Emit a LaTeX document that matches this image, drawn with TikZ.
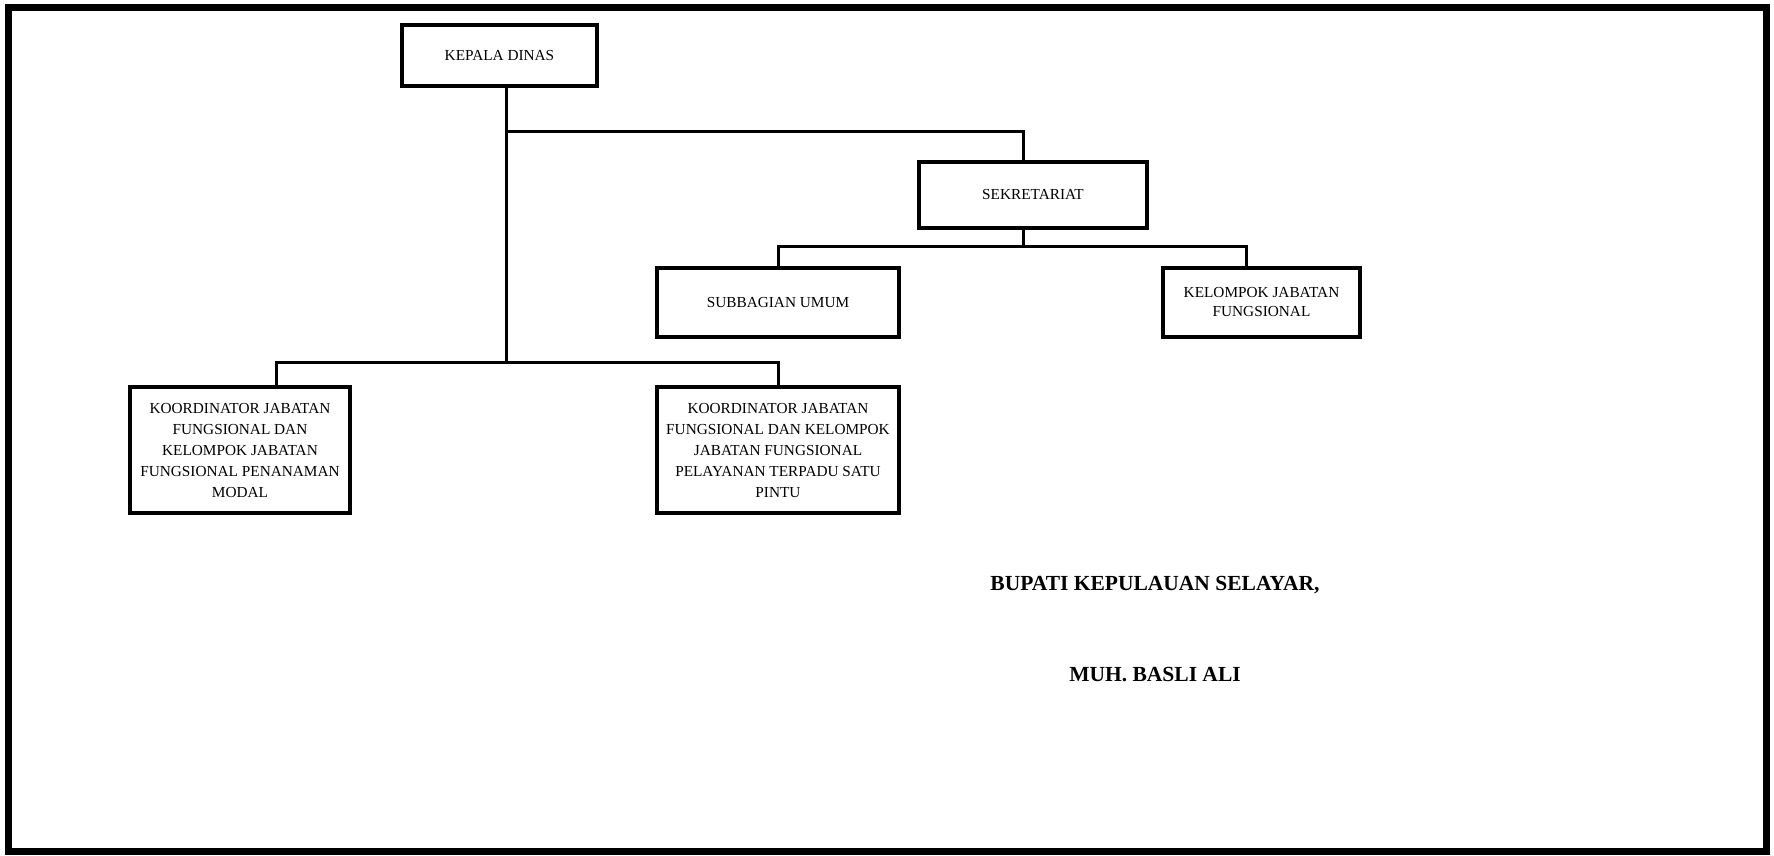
\documentclass[tikz,border=0pt]{standalone}
\usepackage{fontspec}
\setmainfont{Liberation Serif}
\begin{document}
\begin{tikzpicture}[x=1pt,y=-1pt,
  box/.style={draw,line width=3.5pt,inner sep=0pt,align=center,
    font=\fontsize{15.3}{21}\selectfont},
  conn/.style={line width=3pt},
  sign/.style={font=\bfseries\fontsize{21.5}{25}\selectfont,inner sep=0pt}]
\useasboundingbox (0,0) rectangle (1774,855);
\draw[line width=7pt] (8,7) rectangle (1766,851);

\node[box,minimum width=195pt,minimum height=61pt] (kd) at (499.5,55.5) {KEPALA DINAS};
\node[box,minimum width=228pt,minimum height=66pt] (sek) at (1033,195) {SEKRETARIAT};
\node[box,minimum width=242pt,minimum height=69pt] (sub) at (778,302.5) {SUBBAGIAN UMUM};
\node[box,minimum width=197pt,minimum height=69pt,font=\fontsize{15.3}{19}\selectfont] (kel) at (1261.5,302.5) {KELOMPOK JABATAN\\FUNGSIONAL};
\node[box,minimum width=220pt,minimum height=126pt] (k1) at (240,450)
  {KOORDINATOR JABATAN\\FUNGSIONAL DAN\\KELOMPOK JABATAN\\FUNGSIONAL PENANAMAN\\MODAL};
\node[box,minimum width=242pt,minimum height=126pt] (k2) at (778,450)
  {KOORDINATOR JABATAN\\FUNGSIONAL DAN KELOMPOK\\JABATAN FUNGSIONAL\\PELAYANAN TERPADU SATU\\PINTU};

\node[sign] (bup) at (1155,585) {BUPATI KEPULAUAN SELAYAR,};
\node[sign] (nm) at (1155,675) {MUH. BASLI ALI};

\coordinate (a) at (506,131);
\coordinate (b) at (506,362);
\coordinate (sx) at (1023,0);
\coordinate (c) at (1023,246);
\coordinate (kx) at (1246,0);
\coordinate (lx) at (276,0);

\draw[conn] (kd.south -| a) -- (b);
\draw[conn] (a) -| (sek.north -| sx);
\draw[conn] (sek.south -| sx) -- (c);
\draw[conn] (sub.north) |- (c) -| (kel.north -| kx);
\draw[conn] (k1.north -| lx) |- (b) -| (k2.north);
\end{tikzpicture}
\end{document}
